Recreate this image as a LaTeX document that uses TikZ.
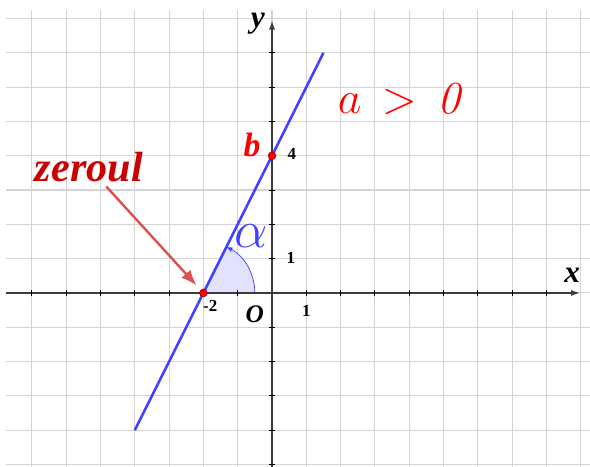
\documentclass[tikz,border=0pt]{standalone}
\usepackage{fix-cm}
\usepackage{fontspec}
\newfontfamily\labelfont{Liberation Serif}
\usetikzlibrary{arrows.meta}

\definecolor{lineblue}{RGB}{64,64,255}
\definecolor{zerored}{RGB}{204,0,0}
\definecolor{arrowred}{RGB}{220,80,80}
\definecolor{gridgray}{RGB}{212,212,212}
\definecolor{axisgray}{RGB}{60,60,60}

\tikzset{
  gridline/.style={gridgray, line width=0.9pt},
  axisline/.style={axisgray, line width=1.6pt, -{Latex[length=8pt,width=5pt]}},
  tickmark/.style={black, line width=0.8pt},
  reddot/.style={circle, fill=red, draw=red!55!black, line width=0.4pt, inner sep=0pt, minimum size=6.5pt},
  numlabel/.style={anchor=base, font=\labelfont\bfseries\fontsize{14}{16}\selectfont},
  axislabel/.style={anchor=base, font=\labelfont\bfseries\itshape\fontsize{26}{30}\selectfont},
}

\begin{document}
\begin{tikzpicture}[scale=1.0]
    \useasboundingbox (-7.93,-5.07) rectangle (9.27,8.54);

    % Grid
    \draw[gridline] (-7.75,-5.1) grid (9.3,8.25);

    % Angle sector
    \fill[lineblue!15] (-2,0) -- (-0.5,0) arc (0:63.43:1.5) -- cycle;
    \draw[lineblue, line width=0.6pt, -{Latex[length=5pt,width=4pt]}] (-0.5,0) arc (0:63.43:1.5);

    % Axes
    \draw[axisline] (-7.75,0) -- (9,0);
    \draw[axisline] (0,-5.1) -- (0,7.96);
    \foreach \x in {-7,...,-1,1,2,...,8}
        \draw[tickmark] (\x,-0.1) -- (\x,0.1);
    \foreach \y in {-5,...,-1,1,2,...,7}
        \draw[tickmark] (-0.1,\y) -- (0.1,\y);

    % Line y = 2x + 4
    \draw[lineblue, line width=2.2pt] (-4,-4) -- (1.5,7);

    % Points
    \node[reddot] (zero) at (-2,0) {};
    \node[reddot] (yint) at (0,4) {};

    % Labels
    \node[axislabel] (xlab) at (8.75,0.29) {x};
    \node[axislabel] (ylab) at (-0.41,7.73) {y};
    \node[anchor=base, font=\labelfont\bfseries\itshape\fontsize{21}{24}\selectfont] (orig) at (-0.5,-0.87) {O};
    \node[numlabel] (xone) at (1.0,-0.7) {1};
    \node[numlabel] (yone) at (0.55,0.87) {1};
    \node[numlabel] (yfour) at (0.58,3.9) {4};
    \node[numlabel] (xmtwo) at (-1.8,-0.55) {-2};
    \node[anchor=base, red, font=\labelfont\bfseries\itshape\fontsize{28}{32}\selectfont] (blab) at (-0.58,3.97) {b};
    \node[anchor=base, lineblue, font=\fontsize{44}{48}\selectfont] (alab) at (-0.6,1.32) {$\alpha$};
    \node[anchor=base, red, font=\fontsize{38}{44}\selectfont] (cond) at (3.7,5.22) {$a \,>\, \mathit{0}$};
    \node[anchor=base, zerored, font=\labelfont\bfseries\itshape\fontsize{35}{40}\selectfont] (zeroul) at (-5.34,3.24) {zeroul};

    % Arrow to zero
    \draw[arrowred, line width=2pt, -{Latex[length=13pt,width=10pt]}, shorten >=5pt] (zeroul) -- (zero);
\end{tikzpicture}
\end{document}
